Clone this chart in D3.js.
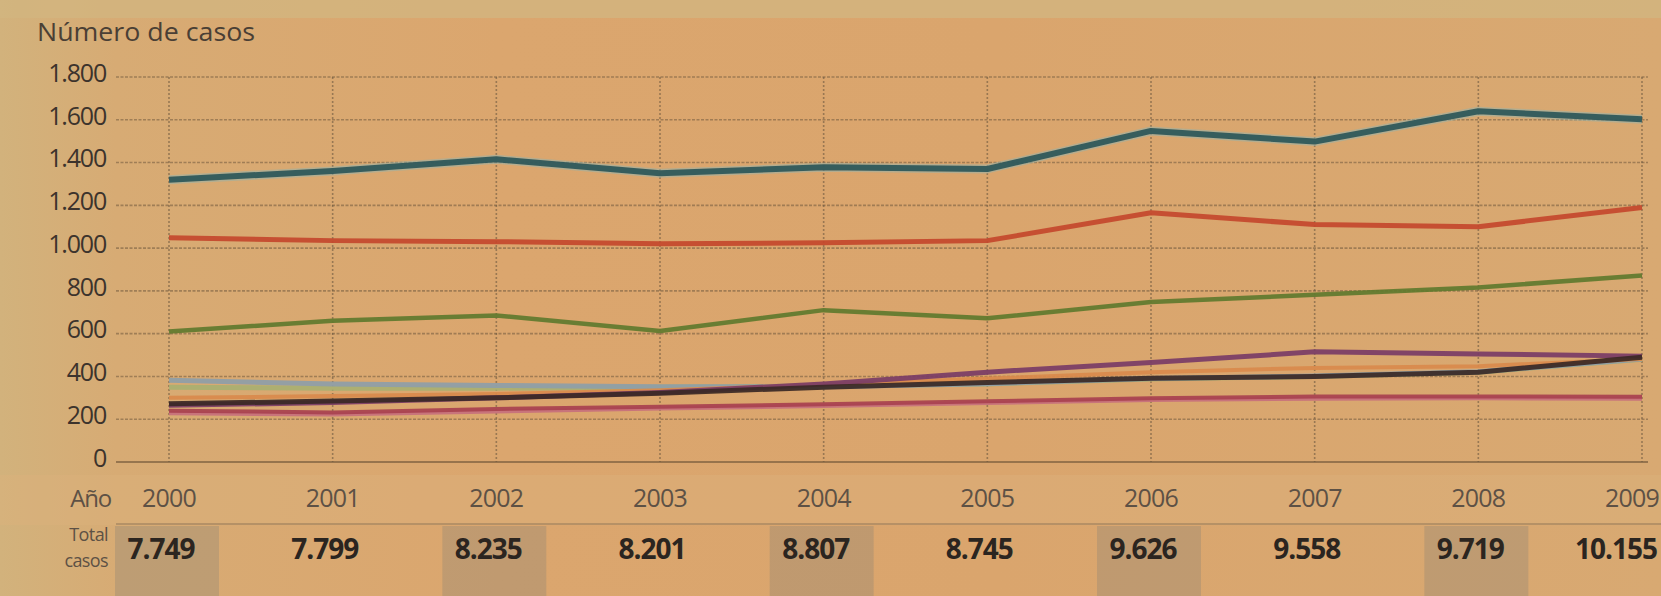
<!DOCTYPE html>
<html>
<head>
<meta charset="utf-8">
<script src="https://cdn.jsdelivr.net/npm/d3@7/dist/d3.min.js"></script>
<style>
  html, body { margin: 0; padding: 0; background: #d8a771; }
  svg { display: block; }
  text { font-family: "Open Sans", "Noto Sans", sans-serif; }
</style>
</head>
<body>
<svg id="chart" width="1661" height="596"></svg>
<script>
// ---------- DATA ----------
const years = [2000, 2001, 2002, 2003, 2004, 2005, 2006, 2007, 2008, 2009];
const yTicks = [0, 200, 400, 600, 800, 1000, 1200, 1400, 1600, 1800];
const totals = [7749, 7799, 8235, 8201, 8807, 8745, 9626, 9558, 9719, 10155];

const serieAzul    = [1320, 1360, 1415, 1350, 1378, 1370, 1548, 1498, 1640, 1602];
const serieRoja    = [1048, 1035, 1030, 1020, 1025, 1035, 1165, 1110, 1100, 1190];
const serieVerde   = [610, 660, 685, 612, 710, 672, 748, 782, 816, 872];
const serieGris    = [382, 365, 358, 352, 352, 366, 390, 402, 422, 482];
const serieVerdeCl = [350, 345, 345, 350, 355, 365, 388, 400, 420, 480];
const serieNaranja = [300, 308, 318, 335, 362, 390, 420, 440, 448, 482];
const serieGranate = [240, 232, 248, 258, 270, 284, 298, 306, 306, 305];
const serieRosa    = [228, 222, 236, 250, 262, 276, 290, 296, 298, 296];
const serieNegra   = [272, 285, 300, 322, 350, 372, 392, 400, 420, 490];
const serieMorada  = [265, 278, 300, 325, 365, 420, 465, 515, 505, 495];

const series = [
  { name: "rosa",    values: serieRosa,    color: "#c7707c", width: 4 },
  { name: "granate", values: serieGranate, color: "#a8414f", width: 4 },
  { name: "verdecl", values: serieVerdeCl, color: "#a9b071", width: 5 },
  { name: "gris",    values: serieGris,    color: "#8e9ea8", width: 5 },
  { name: "naranja", values: serieNaranja, color: "#d98a4c", width: 4 },
  { name: "morada",  values: serieMorada,  color: "#7a3c66", width: 5 },
  { name: "negra",   values: serieNegra,   color: "#3a2825", width: 5 },
  { name: "verde",   values: serieVerde,   color: "#5f7a2e", width: 4.5 },
  { name: "roja",    values: serieRoja,    color: "#c4482d", width: 5 },
  { name: "azul",    values: serieAzul,    color: "#2b5659", width: 6 }
];

// ---------- LAYOUT ----------
const W = 1661, H = 596;
const svg = d3.select("#chart");
const locale = d3.formatLocale({ decimal: ",", thousands: ".", grouping: [3], currency: ["", ""] });
const fmt = locale.format(",d");

const x = d3.scalePoint().domain(years).range([169, 1642]);
const y = d3.scaleLinear().domain([0, 1800]).range([462, 77]);

// background
const defs = svg.append("defs");
const g1 = defs.append("linearGradient").attr("id", "bgx").attr("x1", 0).attr("x2", 1).attr("y1", 0).attr("y2", 0);
g1.append("stop").attr("offset", "0%").attr("stop-color", "#d2b27c");
g1.append("stop").attr("offset", "7%").attr("stop-color", "#d7ab74");
g1.append("stop").attr("offset", "30%").attr("stop-color", "#dba66e");
g1.append("stop").attr("offset", "60%").attr("stop-color", "#daa56d");
g1.append("stop").attr("offset", "100%").attr("stop-color", "#d8a972");
svg.append("rect").attr("width", W).attr("height", H).attr("fill", "url(#bgx)");
svg.append("rect").attr("width", W).attr("height", 18).attr("fill", "#d2b57f").attr("opacity", 0.8);
svg.append("rect").attr("y", 475).attr("width", W).attr("height", 50).attr("fill", "#dcb27c").attr("opacity", 0.45);

// title
svg.append("text").attr("x", 37).attr("y", 41)
  .attr("font-size", 25).attr("fill", "#4a3f35")
  .attr("textLength", 218).attr("lengthAdjust", "spacingAndGlyphs")
  .text("Número de casos");

// horizontal grid
svg.append("g").selectAll("line").data(yTicks).join("line")
  .attr("x1", 116).attr("x2", 1648)
  .attr("y1", d => y(d)).attr("y2", d => y(d))
  .attr("stroke", d => d === 0 ? "#6b5236" : "#7b6143")
  .attr("stroke-width", d => d === 0 ? 2 : 1.6)
  .attr("stroke-dasharray", d => d === 0 ? null : "3,1.5")
  .attr("opacity", 0.6);

// vertical grid
svg.append("g").selectAll("line").data(years).join("line")
  .attr("x1", d => x(d)).attr("x2", d => x(d))
  .attr("y1", y(1800)).attr("y2", y(0))
  .attr("stroke", "#6e5940").attr("stroke-width", 1.6)
  .attr("stroke-dasharray", "2,2").attr("opacity", 0.6);

// y tick labels
svg.append("g").selectAll("text").data(yTicks).join("text")
  .attr("x", 106).attr("y", d => y(d) - 4).attr("dy", "0.35em")
  .attr("text-anchor", "end").attr("font-size", 25).attr("letter-spacing", -1.2)
  .attr("fill", "#3c332c")
  .text(d => fmt(d));

// lines
const line = d3.line().x((d, i) => x(years[i])).y(d => y(d)).curve(d3.curveLinear);
const lg = svg.append("g");
series.forEach(s => {
  if (s.name === "azul") {
    lg.append("path").attr("d", line(s.values)).attr("fill", "none")
      .attr("stroke", "#8fb3b0").attr("stroke-width", s.width + 3).attr("opacity", 0.5)
      .attr("stroke-linejoin", "round");
  }
  lg.append("path").attr("d", line(s.values)).attr("fill", "none")
    .attr("stroke", s.color).attr("stroke-width", s.width)
    .attr("stroke-linejoin", "round").attr("stroke-linecap", "butt")
    .attr("opacity", 0.92);
});

// year row
svg.append("text").attr("x", 111).attr("y", 507).attr("text-anchor", "end")
  .attr("font-size", 24).attr("fill", "#5d5145").attr("letter-spacing", -1.2).text("Año");
svg.append("g").selectAll("text").data(years).join("text")
  .attr("x", (d, i) => i === years.length - 1 ? W - 2 : x(d))
  .attr("y", 507)
  .attr("text-anchor", (d, i) => i === years.length - 1 ? "end" : "middle")
  .attr("font-size", 25).attr("fill", "#5d5145").attr("letter-spacing", -0.8)
  .text(d => d);

// separator
svg.append("line").attr("x1", 116).attr("x2", W).attr("y1", 524).attr("y2", 524)
  .attr("stroke", "#8a7256").attr("stroke-width", 1.5).attr("opacity", 0.6);

// total boxes (alternate years)
svg.append("g").selectAll("rect").data(years.filter((d, i) => i % 2 === 0)).join("rect")
  .attr("x", d => x(d) - 54).attr("y", 526).attr("width", 104).attr("height", 70)
  .attr("fill", "#8e8474").attr("opacity", 0.34);

// totals label
svg.append("text").attr("x", 108).attr("y", 541).attr("text-anchor", "end")
  .attr("font-size", 18).attr("fill", "#5d5145").attr("letter-spacing", -0.6).text("Total");
svg.append("text").attr("x", 108).attr("y", 567).attr("text-anchor", "end")
  .attr("font-size", 18).attr("fill", "#5d5145").attr("letter-spacing", -0.6).text("casos");

// totals
svg.append("g").selectAll("text").data(totals).join("text")
  .attr("x", (d, i) => i === totals.length - 1 ? W - 4 : x(years[i]) - 8)
  .attr("y", 559)
  .attr("text-anchor", (d, i) => i === totals.length - 1 ? "end" : "middle")
  .attr("font-size", 28).attr("font-weight", 700).attr("letter-spacing", -1)
  .attr("fill", "#2b2520")
  .text(d => fmt(d));
</script>
</body>
</html>
